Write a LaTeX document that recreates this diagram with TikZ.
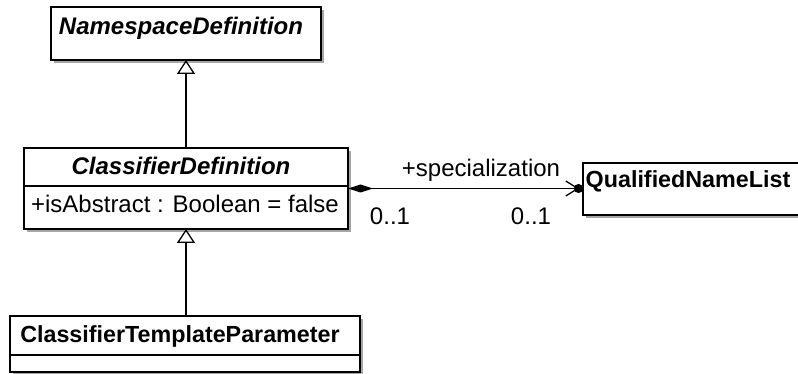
\documentclass[tikz,border=0pt]{standalone}
\usepackage{fontspec}
\setmainfont{Liberation Sans}
\usetikzlibrary{arrows.meta,shadows}
\begin{document}
\begin{tikzpicture}[x=1pt,y=-1pt,
  every node/.style={inner sep=0pt, outer sep=0pt, font=\fontsize{24pt}{28pt}\selectfont},
  classbox/.style={draw=black, line width=1.6pt, fill=white, anchor=north west,
    general shadow={shadow xshift=3pt, shadow yshift=-3pt, fill=black!35}},
  cname/.style={anchor=base, font=\fontsize{23.3pt}{28pt}\selectfont\bfseries},
  aname/.style={anchor=base, font=\fontsize{24pt}{28pt}\selectfont\bfseries\itshape},
  attr/.style={anchor=base},
  sepline/.style={line width=1.6pt},
  gen/.style={line width=1.6pt, -{Triangle[open, width=18pt, length=14pt, fill=white, line width=1.3pt]}},
  assoc/.style={line width=1.5pt,
    {Diamond[length=25pt, width=8pt, fill=black]}-{Straight Barb[length=12pt, width=15pt, line width=1.3pt, sep=-5pt] Circle[length=9pt, fill=black]}},
  lbl/.style={anchor=base}]
\clip (0,0) rectangle (798,374);
\fill[white] (0,0) rectangle (798,374);

% boxes
\node[classbox, minimum width=270pt, minimum height=53pt] (ns) at (51,7) {};
\node[classbox, minimum width=324pt, minimum height=81pt] (cd) at (24,148) {};
\node[classbox, minimum width=350pt, minimum height=56pt] (ctp) at (10,316) {};
\node[classbox, minimum width=240pt, minimum height=52pt] (qnl) at (583,163) {};

% compartments
\draw[sepline] (cd.west |- 0,186) -- (cd.east |- 0,186);
\draw[sepline] (ctp.west |- 0,355) -- (ctp.east |- 0,355);

% texts
\node[aname] (nsT) at (181,35) {NamespaceDefinition};
\node[aname] (cdT) at (181,175) {ClassifierDefinition};
\node[attr] (cdA) at (185,213) {+isAbstract : Boolean = false};
\node[cname] (ctpT) at (180,342) {ClassifierTemplateParameter};
\node[cname] (qnlT) at (688,188) {QualifiedNameList};

% generalizations
\draw[gen] (cd.north) -- (ns.south);
\draw[gen] (cd.south |- ctp.north) -- (cd.south);

% association
\draw[assoc] (cd.east) -- (cd.east -| qnl.west);
\node[lbl] (spec) at (481,177) {+specialization};
\node[lbl] (m1) at (390,225) {0..1};
\node[lbl] (m2) at (531,225) {0..1};
\end{tikzpicture}
\end{document}
